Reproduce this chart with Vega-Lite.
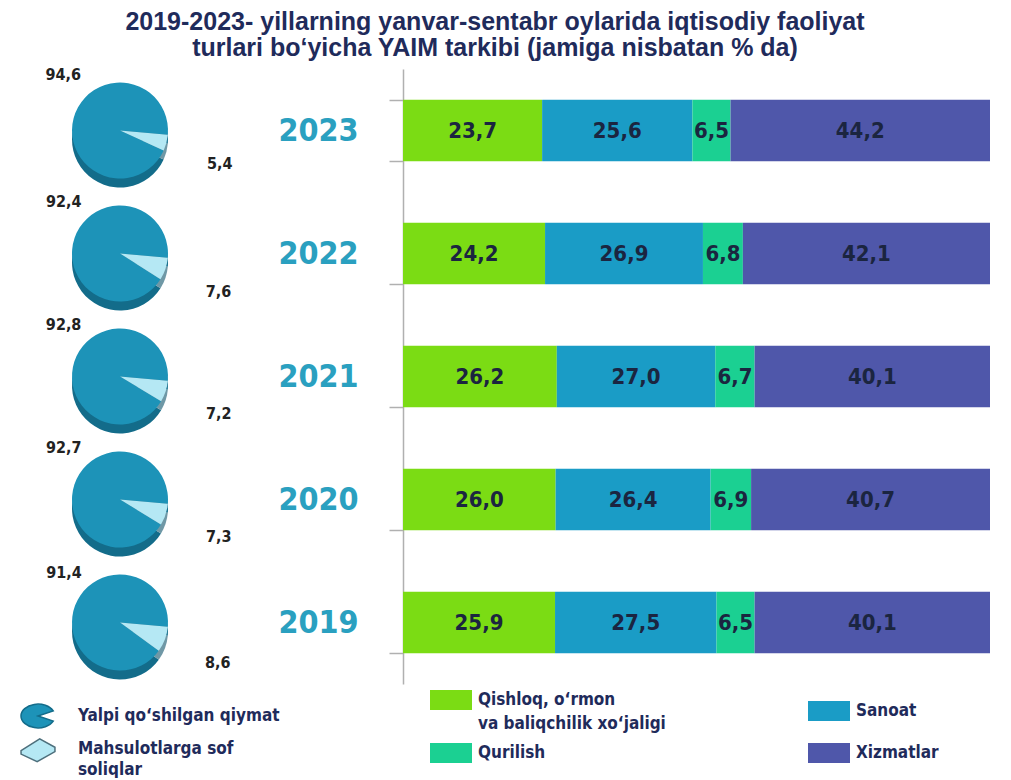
{
  "$schema": "https://vega.github.io/schema/vega-lite/v6.json",
  "background": "white",
  "padding": {"left": 0, "top": 10, "right": 0, "bottom": 0},
  "title": {
    "text": ["2019-2023- yillarning yanvar-sentabr oylarida iqtisodiy faoliyat", "turlari bo‘yicha YAIM tarkibi (jamiga nisbatan % da)"],
    "anchor": "middle",
    "font": "Liberation Sans",
    "fontSize": 25,
    "fontWeight": "bold",
    "color": "#1f2b5b",
    "lineHeight": 26,
    "offset": -8
  },
  "config": {
    "view": {"stroke": null},
    "locale": {"number": {"decimal": ",", "thousands": " ", "grouping": [3], "currency": ["", ""]}}
  },
  "spacing": 403,
  "bounds": "flush",
  "resolve": {"scale": {"color": "independent"}, "legend": {"color": "independent"}},
  "hconcat": [
    {
      "data": {"values": [
        {"year": "2023", "part": "Yalpi qo‘shilgan qiymat", "value": 94.6, "o": 2},
        {"year": "2023", "part": "Mahsulotlarga sof soliqlar", "value": 5.4, "o": 1},
        {"year": "2022", "part": "Yalpi qo‘shilgan qiymat", "value": 92.4, "o": 2},
        {"year": "2022", "part": "Mahsulotlarga sof soliqlar", "value": 7.6, "o": 1},
        {"year": "2021", "part": "Yalpi qo‘shilgan qiymat", "value": 92.8, "o": 2},
        {"year": "2021", "part": "Mahsulotlarga sof soliqlar", "value": 7.2, "o": 1},
        {"year": "2020", "part": "Yalpi qo‘shilgan qiymat", "value": 92.7, "o": 2},
        {"year": "2020", "part": "Mahsulotlarga sof soliqlar", "value": 7.3, "o": 1},
        {"year": "2019", "part": "Yalpi qo‘shilgan qiymat", "value": 91.4, "o": 2},
        {"year": "2019", "part": "Mahsulotlarga sof soliqlar", "value": 8.6, "o": 1}
      ]},
      "facet": {"row": {"field": "year", "type": "ordinal", "sort": "descending", "header": null}},
      "spacing": 0,
      "spec": {
        "width": 240,
        "height": 123,
        "layer": [
          {
            "mark": {"type": "arc", "outerRadius": 48, "yOffset": 9},
            "encoding": {
              "theta": {"field": "value", "type": "quantitative", "stack": true, "scale": {"range": [1.66, 7.943]}},
              "order": {"field": "o", "type": "quantitative"},
              "fill": {"condition": {"test": "datum.o == 1", "value": "#6f98a6"}, "value": "#136c8a"}
            }
          },
          {
            "mark": {"type": "arc", "outerRadius": 48},
            "encoding": {
              "theta": {"field": "value", "type": "quantitative", "stack": true, "scale": {"range": [1.66, 7.943]}},
              "order": {"field": "o", "type": "quantitative"},
              "color": {
                "field": "part", "type": "nominal",
                "scale": {"domain": ["Yalpi qo‘shilgan qiymat", "Mahsulotlarga sof soliqlar"], "range": ["#1d93b8", "#b5e8f4"]},
                "legend": {
                  "title": null,
                  "orient": "none",
                  "legendX": 20,
                  "legendY": 629,
                  "direction": "vertical",
                  "symbolType": "circle",
                  "symbolSize": 1150,
                  "symbolStrokeWidth": 0,
                  "labelFont": "DejaVu Sans Condensed",
                  "labelFontWeight": "bold",
                  "labelFontSize": 17,
                  "labelColor": "#1f2b5b",
                  "labelOffset": 22,
                  "labelLimit": 400,
                  "rowPadding": 0,
                  "labelExpr": "datum.label == 'Mahsulotlarga sof soliqlar' ? ['Mahsulotlarga sof', 'soliqlar'] : datum.label",
                  "encode": {
                    "labels": {"update": {"lineHeight": {"value": 21}}},
                    "symbols": {"update": {
                      "shape": {"signal": "datum.value == 'Yalpi qo‘shilgan qiymat' ? 'M0,0L0.9,-0.3A1,0.7 0 1,0 0.9,0.3Z' : 'M-1,0.1L0.1,-0.6L1,-0.1L1,0.15L-0.05,0.75L-1,0.3Z'"},
                      "stroke": {"signal": "datum.value == 'Yalpi qo‘shilgan qiymat' ? '#136c8a' : '#4d6f7c'"},
                      "strokeWidth": {"value": 1.5}
                    }}
                  }
                }
              }
            }
          },
          {
            "transform": [{"filter": "datum.o == 2"}],
            "mark": {"type": "text", "radius": 66, "dx": 9, "dy": -61, "font": "DejaVu Sans Condensed", "fontWeight": "bold", "fontSize": 16, "color": "#222222"},
            "encoding": {
              "theta": {"field": "value", "type": "quantitative", "stack": true, "scale": {"range": [1.66, 7.943]}},
              "text": {"field": "value", "type": "quantitative", "format": ".1f"}
            }
          },
          {
            "transform": [{"filter": "datum.o == 1"}],
            "mark": {"type": "text", "radius": 66, "dx": 36, "dy": 17, "font": "DejaVu Sans Condensed", "fontWeight": "bold", "fontSize": 16, "color": "#222222"},
            "encoding": {
              "theta": {"field": "value", "type": "quantitative", "stack": true, "scale": {"range": [1.66, 7.943]}},
              "text": {"field": "value", "type": "quantitative", "format": ".1f"}
            }
          }
        ]
      }
    },
    {
      "data": {"values": [
        {"year": "2023", "sector": "Qishloq, o‘rmon va baliqchilik xo‘jaligi", "value": 23.7, "o": 1},
        {"year": "2023", "sector": "Sanoat", "value": 25.6, "o": 2},
        {"year": "2023", "sector": "Qurilish", "value": 6.5, "o": 3},
        {"year": "2023", "sector": "Xizmatlar", "value": 44.2, "o": 4},
        {"year": "2022", "sector": "Qishloq, o‘rmon va baliqchilik xo‘jaligi", "value": 24.2, "o": 1},
        {"year": "2022", "sector": "Sanoat", "value": 26.9, "o": 2},
        {"year": "2022", "sector": "Qurilish", "value": 6.8, "o": 3},
        {"year": "2022", "sector": "Xizmatlar", "value": 42.1, "o": 4},
        {"year": "2021", "sector": "Qishloq, o‘rmon va baliqchilik xo‘jaligi", "value": 26.2, "o": 1},
        {"year": "2021", "sector": "Sanoat", "value": 27.0, "o": 2},
        {"year": "2021", "sector": "Qurilish", "value": 6.7, "o": 3},
        {"year": "2021", "sector": "Xizmatlar", "value": 40.1, "o": 4},
        {"year": "2020", "sector": "Qishloq, o‘rmon va baliqchilik xo‘jaligi", "value": 26.0, "o": 1},
        {"year": "2020", "sector": "Sanoat", "value": 26.4, "o": 2},
        {"year": "2020", "sector": "Qurilish", "value": 6.9, "o": 3},
        {"year": "2020", "sector": "Xizmatlar", "value": 40.7, "o": 4},
        {"year": "2019", "sector": "Qishloq, o‘rmon va baliqchilik xo‘jaligi", "value": 25.9, "o": 1},
        {"year": "2019", "sector": "Sanoat", "value": 27.5, "o": 2},
        {"year": "2019", "sector": "Qurilish", "value": 6.5, "o": 3},
        {"year": "2019", "sector": "Xizmatlar", "value": 40.1, "o": 4}
      ]},
      "width": 587,
      "height": 615,
      "encoding": {
        "y": {
          "field": "year", "type": "ordinal", "sort": "descending",
          "scale": {"paddingInner": 0.5, "paddingOuter": 0.25},
          "axis": {
            "title": null,
            "domainColor": "#b0b0b0",
            "domainWidth": 1.5,
            "tickColor": "#b0b0b0",
            "tickWidth": 1.5,
            "tickSize": 14,
            "tickBand": "extent",
            "labelFont": "DejaVu Sans Condensed",
            "labelFontWeight": "bold",
            "labelFontSize": 32,
            "labelColor": "#2aa0c0",
            "labelPadding": 31
          }
        }
      },
      "layer": [
        {
          "mark": {"type": "bar"},
          "encoding": {
            "x": {"field": "value", "type": "quantitative", "stack": "zero", "scale": {"domain": [0, 100]}, "axis": null},
            "order": {"field": "o", "type": "quantitative"},
            "color": {
              "field": "sector", "type": "nominal",
              "scale": {
                "domain": ["Qishloq, o‘rmon va baliqchilik xo‘jaligi", "Sanoat", "Qurilish", "Xizmatlar"],
                "range": ["#7bdc14", "#1a9cc6", "#1bd092", "#4f57aa"]
              },
              "legend": {
                "title": null,
                "orient": "none",
                "legendX": 27,
                "legendY": 610,
                "direction": "horizontal",
                "columns": 2,
                "columnPadding": 142,
                "rowPadding": 0,
                "symbolType": "M-1,-0.48H1V0.48H-1Z",
                "symbolSize": 1764,
                "symbolStrokeWidth": 0,
                "labelFont": "DejaVu Sans Condensed",
                "labelFontWeight": "bold",
                "labelFontSize": 17,
                "labelColor": "#1f2b5b",
                "labelOffset": 6,
                "labelLimit": 400,
                "labelExpr": "datum.label == 'Qishloq, o‘rmon va baliqchilik xo‘jaligi' ? ['Qishloq, o‘rmon', 'va baliqchilik xo‘jaligi'] : datum.label",
                "encode": {"labels": {"update": {"lineHeight": {"value": 24}}}}
              }
            }
          }
        },
        {
          "mark": {"type": "text", "font": "DejaVu Sans Condensed", "fontWeight": "bold", "fontSize": 22, "color": "#1b2540"},
          "encoding": {
            "x": {"field": "value", "type": "quantitative", "stack": "zero", "bandPosition": 0.5},
            "order": {"field": "o", "type": "quantitative"},
            "text": {"field": "value", "type": "quantitative", "format": ".1f"}
          }
        }
      ]
    }
  ]
}
